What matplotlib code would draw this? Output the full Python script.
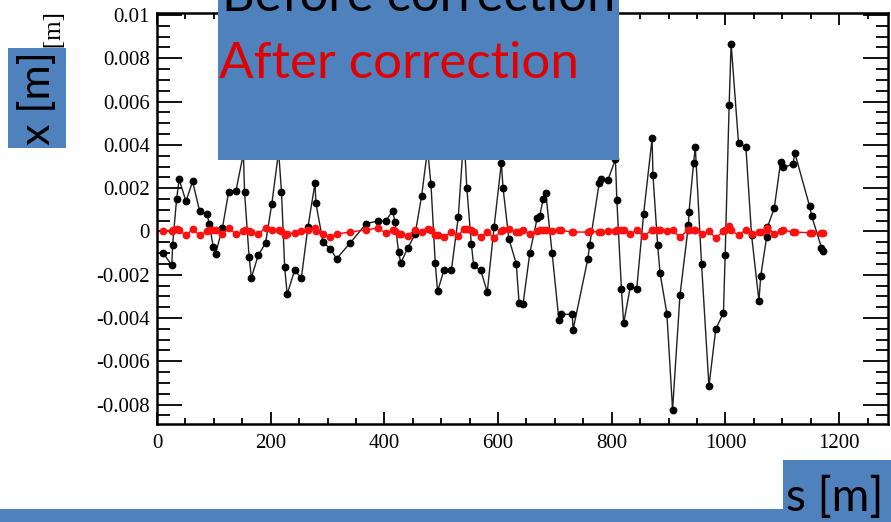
import numpy as np
import matplotlib
matplotlib.use('Agg')
import matplotlib.pyplot as plt
from matplotlib.patches import Rectangle
from matplotlib.ticker import MultipleLocator, FuncFormatter

# monitor positions s [m]
s = [11, 26, 27.5, 34.5, 39, 51, 62.6, 75, 88, 92, 99, 103, 115, 126, 139, 152, 154,
     162, 166, 178, 191, 202, 214, 219, 224.6, 229, 242, 254, 265.5, 278, 279.5, 292,
     304.7, 316, 339.6, 368, 388, 402, 414.6, 418.7, 425, 429, 441, 454, 465.5, 476,
     482, 489.5, 493.6, 505, 518, 530, 540, 545, 553, 557, 569.6, 581, 593, 605.8,
     608.8, 619, 632, 637, 644, 656, 669, 673, 679.5, 684, 695, 707, 710, 730.4, 732,
     758, 761, 778, 781, 793, 806.5, 809, 817, 821, 832.8, 844, 856, 871, 872.5,
     880.7, 885, 897, 907, 920, 935, 936, 944, 947, 958, 971, 983, 996.5, 999.5,
     1006.5, 1010, 1023, 1036, 1046, 1059, 1062, 1072.5, 1074, 1086, 1097, 1102,
     1119, 1122, 1148, 1152, 1169, 1172]

# orbit before correction
x_before = [-0.00100, -0.00157, -0.00061, 0.00151, 0.00240, 0.00139, 0.00231, 0.00094,
            0.00079, 0.00035, -0.00072, -0.00103, 0.00015, 0.00182, 0.00189, 0.00360,
            0.00182, -0.00116, -0.00214, -0.00111, -0.00054, 0.00128, 0.00370, 0.00182,
            -0.00165, -0.00291, -0.00180, -0.00214, 0.00020, 0.00223, 0.00131, -0.00049,
            -0.00080, -0.00126, -0.00054, 0.00036, 0.00048, 0.00048, 0.00094, 0.00043,
            -0.00096, -0.00146, -0.00077, -0.00014, 0.00163, 0.00380, 0.00217, -0.00146,
            -0.00277, -0.00177, -0.00177, 0.00066, 0.00450, 0.00202, -0.00057, -0.00157,
            -0.00180, -0.00280, 0.00020, 0.00317, 0.00200, -0.00034, -0.00149, -0.00330,
            -0.00334, -0.00098, 0.00063, 0.00069, 0.00151, 0.00177, -0.00098, -0.00408,
            -0.00383, -0.00383, -0.00454, -0.00126, -0.00065, 0.00225, 0.00240, 0.00236,
            0.00333, 0.00143, -0.00265, -0.00424, -0.00254, -0.00265, 0.00079, 0.00430,
            0.00259, -0.00061, -0.00193, -0.00380, -0.00824, -0.00296, 0.00031, 0.00092,
            0.00317, 0.00390, -0.00152, -0.00716, -0.00451, -0.00377, -0.00111, 0.00582,
            0.00867, 0.00410, 0.00390, -0.00018, -0.00322, -0.00208, -0.00026, 0.00020,
            0.00109, 0.00320, 0.00297, 0.00310, 0.00363, 0.00117, 0.00069, -0.00075,
            -0.00091]

# orbit after correction
x_after = [0.00000, 0.00000, 0.00005, 0.00010, 0.00005, -0.00018, 0.00010, -0.00018,
           0.00000, 0.00008, 0.00008, 0.00005, -0.00012, 0.00014, -0.00012, 0.00000,
           0.00005, 0.00000, -0.00005, -0.00014, 0.00018, 0.00005, 0.00008, 0.00000,
           -0.00018, -0.00010, -0.00008, 0.00000, 0.00005, 0.00014, 0.00000, -0.00012,
           -0.00025, -0.00012, -0.00003, 0.00007, 0.00015, -0.00006, 0.00005, 0.00000,
           -0.00010, -0.00013, -0.00020, 0.00008, -0.00003, 0.00012, 0.00005, -0.00017,
           -0.00017, -0.00025, -0.00003, -0.00020, 0.00012, 0.00012, 0.00007, -0.00003,
           -0.00025, -0.00003, -0.00030, 0.00003, 0.00008, 0.00012, -0.00003, -0.00003,
           0.00008, -0.00011, 0.00002, 0.00005, 0.00008, 0.00008, 0.00002, 0.00008,
           0.00005, -0.00003, -0.00003, -0.00003, 0.00000, -0.00003, -0.00002, 0.00002,
           0.00002, 0.00005, 0.00005, 0.00008, -0.00011, 0.00005, -0.00023, 0.00008,
           0.00008, 0.00005, 0.00005, 0.00002, 0.00005, -0.00026, 0.00008, 0.00008,
           0.00005, 0.00005, -0.00010, 0.00000, -0.00030, 0.00002, 0.00008, 0.00023,
           0.00005, -0.00018, 0.00008, -0.00010, -0.00003, -0.00003, 0.00008, 0.00017,
           -0.00010, 0.00002, 0.00005, -0.00003, -0.00003, -0.00006, -0.00006, -0.00008,
           -0.00008]

x_ticks = [0, 200, 400, 600, 800, 1000, 1200]
y_ticks = [-0.008, -0.006, -0.004, -0.002, 0, 0.002, 0.004, 0.006, 0.008, 0.01]

W, H = 891, 522
fig = plt.figure(figsize=(W / 100, H / 100), dpi=100)
ax = fig.add_axes([157 / W, 1 - 424 / H, (888 - 157) / W, (424 - 13.3) / H])

ax.plot(s, x_before, '-o', color='#202020', lw=1.0, ms=4.6, mec='black', mfc='black', zorder=3)
ax.plot(s, x_after, '-o', color='#ff0000', lw=1.0, ms=4.6, mec='#ff1010', mfc='#ff1010', zorder=4)

ax.set_xlim(0, 1286)
ax.set_ylim(-0.0089, 0.01008)
ax.set_xticks(x_ticks)
ax.set_yticks(y_ticks)
ax.xaxis.set_minor_locator(MultipleLocator(50))
ax.yaxis.set_minor_locator(MultipleLocator(0.0005))
ax.yaxis.set_major_formatter(FuncFormatter(lambda v, p: '%g' % round(v, 4)))

for sp in ax.spines.values():
    sp.set_linewidth(1.8)
ax.tick_params(axis='both', which='both', direction='in', top=True, right=True, width=1.3)
ax.tick_params(axis='y', which='major', length=18, pad=5)
ax.tick_params(axis='y', which='minor', length=9)
ax.tick_params(axis='x', which='major', length=8.5, pad=7)
ax.tick_params(axis='x', which='minor', length=4)
for lab in ax.get_xticklabels() + ax.get_yticklabels():
    lab.set_fontfamily('Liberation Serif')
    lab.set_fontsize(15)

# original serif axis title, mostly covered
fig.text(55 / W, 1 - 12 / H, 'x [m]', rotation=90, ha='center', va='top',
         fontfamily='Liberation Serif', fontsize=18)

blue = '#4F81BD'
boxes = [(218, 0, 619, 160), (8, 48, 66, 148), (0, 509, 891, 522), (783, 460, 891, 522)]
for x0, y0, x1, y1 in boxes:
    fig.add_artist(Rectangle((x0 / W, 1 - y1 / H), (x1 - x0) / W, (y1 - y0) / H,
                             transform=fig.transFigure, facecolor=blue, edgecolor='none',
                             zorder=10))

fig.text(222 / W, 1 - 11 / H, 'Before correction', color='black', fontfamily='Lato',
         fontsize=36.5, va='baseline', ha='left', zorder=11)
fig.text(219 / W, 1 - 78 / H, 'After correction', color='#E00000', fontfamily='Lato',
         fontsize=36.8, va='baseline', ha='left', zorder=11)
fig.text(37 / W, 1 - 98 / H, 'x [m]', color='black', fontfamily='Lato', fontsize=31,
         rotation=90, ha='center', va='center', zorder=11)
fig.text(786 / W, 1 - 511 / H, 's [m]', color='black', fontfamily='Lato', fontsize=33,
         va='baseline', ha='left', zorder=11)

fig.savefig('out.png', dpi=100)
